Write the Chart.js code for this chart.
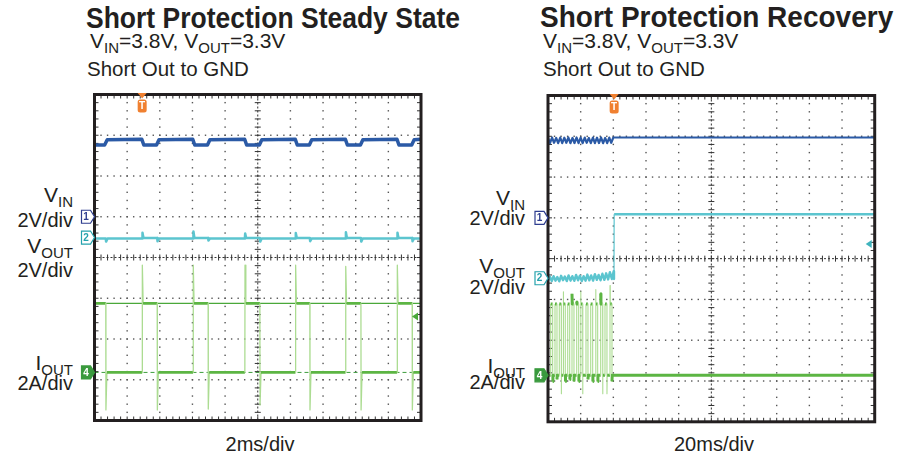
<!DOCTYPE html>
<html>
<head>
<meta charset="utf-8">
<script src="https://cdn.jsdelivr.net/npm/chart.js@4.4.0/dist/chart.umd.min.js"></script>
<style>
  html, body { margin: 0; padding: 0; background: #fff; }
  #page { position: relative; width: 903px; height: 462px; overflow: hidden; background: #fff; }
  canvas { position: absolute; }
  .lbl { position: absolute; white-space: nowrap; line-height: 1; color: #231f20;
         font-family: "Liberation Sans", Arial, Helvetica, sans-serif; }
  .title { font-size: 26.5px; font-weight: bold; transform: scaleY(1.08); transform-origin: 0 85%; }
  .sub1 { font-size: 21px; }
  .sub2 { font-size: 20.5px; }
  .ch { font-size: 21px; text-align: right; }
  .dv { font-size: 20px; text-align: right; }
  .ch span, .sub1 span { font-size: 15px; position: relative; top: 5px; }
  .tb { font-size: 20px; transform: translateX(-50%); }
</style>
</head>
<body>
<div id="page">
  <div class="lbl title" style="left:86px; top:5.6px">Short Protection Steady State</div>
  <div class="lbl sub1" style="left:90px; top:30.2px">V<span>IN</span>=3.8V, V<span>OUT</span>=3.3V</div>
  <div class="lbl sub2" style="left:87px; top:58.6px">Short Out to GND</div>

  <div class="lbl title" style="left:540px; top:4.3px; font-size:28px">Short Protection Recovery</div>
  <div class="lbl sub1" style="left:543px; top:30.2px">V<span>IN</span>=3.8V, V<span>OUT</span>=3.3V</div>
  <div class="lbl sub2" style="left:543px; top:58.6px">Short Out to GND</div>

  <div class="lbl ch" style="right:830px; top:184.2px">V<span>IN</span></div>
  <div class="lbl dv" style="right:830px; top:209.6px">2V/div</div>
  <div class="lbl ch" style="right:830px; top:235.2px">V<span>OUT</span></div>
  <div class="lbl dv" style="right:830px; top:259.6px">2V/div</div>
  <div class="lbl ch" style="right:830px; top:352.2px">I<span>OUT</span></div>
  <div class="lbl dv" style="right:830px; top:373.1px">2A/div</div>

  <div class="lbl ch" style="right:378px; top:187.2px">V<span>IN</span></div>
  <div class="lbl dv" style="right:378px; top:208.1px">2V/div</div>
  <div class="lbl ch" style="right:378px; top:255.2px">V<span>OUT</span></div>
  <div class="lbl dv" style="right:378px; top:277.1px">2V/div</div>
  <div class="lbl ch" style="right:378px; top:355.2px">I<span>OUT</span></div>
  <div class="lbl dv" style="right:378px; top:371.6px">2A/div</div>

  <div class="lbl tb" style="left:260px; top:434.1px">2ms/div</div>
  <div class="lbl tb" style="left:714px; top:434.1px">20ms/div</div>

  <canvas id="steady" width="380" height="352" style="left:60px; top:80px"></canvas>
  <canvas id="recovery" width="385" height="352" style="left:515px; top:80px"></canvas>
</div>

<script>
// ---- Steady state (time in ms, 2 ms/div) ----
const ssVinT = [0, 0.62, 0.78, 2.9, 3.02, 3.8, 3.95, 6.02, 6.14, 6.92, 7.07, 9.2, 9.32, 10.1, 10.25, 12.3, 12.42, 13.16, 13.31, 15.37, 15.49, 16.29, 16.44, 18.53, 18.65, 19.43, 19.58, 20];
const ssVinV = [3.52, 3.52, 3.78, 3.8, 3.52, 3.52, 3.78, 3.8, 3.52, 3.52, 3.78, 3.8, 3.52, 3.52, 3.78, 3.8, 3.52, 3.52, 3.78, 3.8, 3.52, 3.52, 3.78, 3.8, 3.52, 3.52, 3.78, 3.8];

const ssVoutT = [0, 0.69, 0.71, 0.8, 2.92, 2.94, 3.0, 3.84, 3.86, 3.95, 6.04, 6.06, 6.12, 6.96, 6.98, 7.07, 9.21, 9.23, 9.29, 10.13, 10.15, 10.24, 12.31, 12.33, 12.39, 13.19, 13.21, 13.3, 15.38, 15.4, 15.46, 16.32, 16.34, 16.43, 18.54, 18.56, 18.62, 19.46, 19.48, 19.57, 20];
const ssVoutV = [-0.05, -0.05, -0.2, -0.05, -0.05, 0.24, -0.02, -0.02, -0.18, -0.05, -0.05, 0.3, -0.02, -0.02, -0.15, -0.05, -0.05, 0.2, -0.02, -0.02, -0.2, -0.05, -0.05, 0.22, -0.02, -0.02, -0.18, -0.05, -0.05, 0.26, -0.02, -0.02, -0.2, -0.05, -0.05, 0.24, -0.02, -0.02, -0.18, -0.05, -0.05];

const ssIoutT = [0, 0.69, 0.7, 0.76, 2.92, 2.93, 2.98, 3.84, 3.85, 3.91, 6.04, 6.05, 6.1, 6.96, 6.97, 7.03, 9.21, 9.22, 9.27, 10.13, 10.14, 10.2, 12.31, 12.32, 12.37, 13.19, 13.2, 13.26, 15.38, 15.39, 15.44, 16.32, 16.33, 16.39, 18.54, 18.55, 18.6, 19.46, 19.47, 19.53, 20];
const ssIoutA = [3.39, 3.39, -1.84, 0, 0, 5.27, 3.39, 3.39, -1.84, 0, 0, 5.27, 3.39, 3.39, -1.8, 0, 0, 5.27, 3.39, 3.39, -1.6, 0, 0, 5.27, 3.39, 3.39, -1.84, 0, 0, 5.2, 3.39, 3.39, -1.84, 0, 0, 5.27, 3.39, 3.39, -1.84, 0, 0];

const ssCursorA = 3.39;      // horizontal cursor on the current channel
const ssTrigLevelA = 2.74;   // trigger level arrow
const ssTrigTime = 2.92;

// ---- Recovery (time in ms, 20 ms/div) ----
const rcVinT = [0, 1.2, 2.5, 3.7, 5.0, 6.2, 7.5, 8.7, 10.0, 11.2, 12.5, 13.7, 15.0, 16.2, 17.5, 18.7, 20.0, 21.2, 22.5, 23.7, 25.0, 26.2, 27.5, 28.7, 30.0, 31.2, 32.5, 33.7, 35.0, 36.2, 37.5, 38.7, 40.0, 200];
const rcVinV = [3.92, 3.66, 3.94, 3.68, 3.92, 3.66, 3.94, 3.66, 3.93, 3.68, 3.94, 3.66, 3.92, 3.67, 3.94, 3.66, 3.93, 3.66, 3.94, 3.68, 3.92, 3.66, 3.94, 3.66, 3.93, 3.67, 3.94, 3.66, 3.92, 3.66, 3.94, 3.68, 3.94, 3.94];

const rcVoutT = [0, 1.1, 2.3, 3.4, 4.6, 5.7, 6.9, 8.0, 9.2, 10.3, 11.5, 12.6, 13.8, 14.9, 16.1, 17.2, 18.4, 19.5, 20.7, 21.8, 23.0, 24.1, 25.3, 26.4, 27.6, 28.7, 29.9, 31.0, 32.2, 33.3, 34.5, 35.6, 36.8, 37.9, 39.1, 40.2, 40.4, 40.5, 200];
const rcVoutV = [-0.12, 0.08, -0.14, 0.1, -0.12, 0.06, -0.15, 0.12, -0.1, 0.08, -0.14, 0.14, -0.12, 0.1, -0.13, 0.16, -0.1, 0.12, -0.14, 0.1, -0.12, 0.18, -0.1, 0.14, -0.12, 0.2, -0.08, 0.16, -0.1, 0.22, -0.08, 0.24, -0.06, 0.3, -0.04, 0.34, -0.04, 3.14, 3.14];

const rcIoutT = [0,
  1.64, 1.65, 1.8, 2.85, 2.86, 3.0,
  4.28, 4.29, 4.44, 5.49, 5.5, 5.64,
  6.91, 6.92, 7.07, 8.12, 8.13, 8.27,
  9.36, 9.37, 9.52, 10.57, 10.58, 10.72,
  12.05, 12.06, 12.21, 13.26, 13.27, 13.41,
  14.68, 14.69, 14.84, 15.89, 15.9, 16.04,
  17.56, 17.57, 17.72, 18.77, 18.78, 18.92,
  20.01, 20.02, 20.17, 21.22, 21.23, 21.37,
  23.25, 23.26, 23.41, 24.46, 24.47, 24.61,
  26.13, 26.14, 26.29, 27.34, 27.35, 27.49,
  29.19, 29.2, 29.35, 30.4, 30.41, 30.55,
  32.25, 32.26, 32.41, 33.46, 33.47, 33.61,
  34.88, 34.89, 35.04, 36.09, 36.1, 36.24,
  37.95, 37.96, 38.11, 39.16, 39.17, 39.31,
  200];
const rcIoutA = [0,
  0, 3.5, 3.5, 3.5, -0.3, 0,
  0, 3.5, 3.5, 3.5, -0.2, 0,
  0, 3.5, 3.5, 3.5, -0.9, 0,
  0, 4.1, 3.5, 3.5, -0.3, 0,
  0, 3.5, 3.5, 3.5, -0.2, 0,
  0, 4.0, 3.5, 3.5, -0.3, 0,
  0, 3.6, 3.5, 3.5, -0.3, 0,
  0, 4.1, 3.5, 3.5, -0.9, 0,
  0, 3.5, 3.5, 3.5, -0.2, 0,
  0, 3.5, 3.5, 3.5, -0.3, 0,
  0, 4.2, 3.5, 3.5, -0.3, 0,
  0, 4.0, 3.5, 3.5, -0.9, 0,
  0, 3.5, 3.5, 3.5, -0.9, 0,
  0, 4.4, 3.5, 3.5, -0.3, 0,
  0];

const rcTrigLevelV = 1.68;
const rcTrigTime = 40.5;

// colours
const C_VIN = '#2b5aa6';
const C_VOUT = '#5cc5cf';
const C_IOUT = '#5cb543';
const C_IOUT_EDGE = '#acdc92';
const C_TRIG = '#f08030';

const pts = (t, v) => t.map((x, i) => ({ x, y: v[i] }));

// steep edges drawn thin and light, flat parts thick (scope persistence look)
function edgeSegments(limit, thick, thin, dark, light) {
  const steep = c => Math.abs(c.p1.parsed.y - c.p0.parsed.y) > limit;
  return {
    borderWidth: c => steep(c) ? thin : thick,
    borderColor: c => steep(c) ? light : dark
  };
}

// channel axis: ground at `ground` divisions from the bottom, 8 divisions tall
function chAxis(ground, perDiv) {
  return { type: 'linear', display: false, min: -ground * perDiv, max: (8 - ground) * perDiv };
}

function drawTag(ctx, xTip, y, label, stroke, fill, text) {
  const x0 = xTip - 13;
  ctx.beginPath();
  ctx.moveTo(x0, y - 6.5);
  ctx.lineTo(x0 + 9, y - 6.5);
  ctx.lineTo(xTip, y);
  ctx.lineTo(x0 + 9, y + 6.5);
  ctx.lineTo(x0, y + 6.5);
  ctx.closePath();
  ctx.fillStyle = fill;
  ctx.fill();
  ctx.lineWidth = 1.2;
  ctx.strokeStyle = stroke;
  ctx.stroke();
  ctx.fillStyle = text;
  ctx.font = 'bold 10px "Liberation Sans", Arial';
  ctx.textAlign = 'center';
  ctx.textBaseline = 'middle';
  ctx.fillText(label, x0 + 4.5, y + 0.5);
}

const scopePlugin = {
  id: 'scope',
  beforeDatasetsDraw(chart) {
    const { ctx, chartArea: a } = chart;
    const dx = (a.right - a.left) / 10, dy = (a.bottom - a.top) / 8;
    ctx.save();
    // dotted graticule
    ctx.fillStyle = '#555';
    for (let i = 1; i < 10; i++) {
      if (i === 5) continue;
      const x = a.left + i * dx;
      for (let k = 1; k < 40; k++) ctx.fillRect(x - 0.7, a.top + k * dy / 5 - 0.7, 1.4, 1.4);
    }
    for (let j = 1; j < 8; j++) {
      if (j === 4) continue;
      const y = a.top + j * dy;
      for (let k = 1; k < 50; k++) ctx.fillRect(a.left + k * dx / 5 - 0.7, y - 0.7, 1.4, 1.4);
    }
    // centre cross + minor ticks on cross and frame
    const cx = a.left + 5 * dx, cy = a.top + 4 * dy;
    ctx.strokeStyle = '#333';
    ctx.lineWidth = 1;
    ctx.setLineDash([2, 2]);
    ctx.beginPath();
    ctx.moveTo(cx, a.top); ctx.lineTo(cx, a.bottom);
    ctx.moveTo(a.left, cy); ctx.lineTo(a.right, cy);
    ctx.stroke();
    ctx.setLineDash([]);
    ctx.beginPath();
    for (let k = 1; k < 50; k++) {
      const x = a.left + k * dx / 5;
      ctx.moveTo(x, cy - 3); ctx.lineTo(x, cy + 3);
      ctx.moveTo(x, a.top); ctx.lineTo(x, a.top + 4);
      ctx.moveTo(x, a.bottom); ctx.lineTo(x, a.bottom - 4);
    }
    for (let k = 1; k < 40; k++) {
      const y = a.top + k * dy / 5;
      ctx.moveTo(cx - 3, y); ctx.lineTo(cx + 3, y);
      ctx.moveTo(a.left, y); ctx.lineTo(a.left + 4, y);
      ctx.moveTo(a.right, y); ctx.lineTo(a.right - 4, y);
    }
    ctx.stroke();
    ctx.restore();
  },
  afterDatasetsDraw(chart, args, opts) {
    const { ctx, chartArea: a, scales } = chart;
    ctx.save();
    // frame
    ctx.lineWidth = 3;
    ctx.strokeStyle = '#231f20';
    ctx.strokeRect(a.left, a.top, a.right - a.left, a.bottom - a.top);

    // channel ground tags
    drawTag(ctx, a.left, scales.yVin.getPixelForValue(0), '1', '#2e3d8f', '#fff', '#2e3d8f');
    drawTag(ctx, a.left, scales.yVout.getPixelForValue(0), '2', '#25a2ad', '#fff', '#25a2ad');
    drawTag(ctx, a.left, scales.yIout.getPixelForValue(0), '4', '#3a9a3e', '#3a9a3e', '#fff');

    // trigger position
    const tx = scales.x.getPixelForValue(opts.trigTime);
    ctx.fillStyle = C_TRIG;
    ctx.beginPath();
    ctx.moveTo(tx - 4.5, a.top - 1.5);
    ctx.lineTo(tx + 4.5, a.top - 1.5);
    ctx.lineTo(tx, a.top + 4);
    ctx.closePath();
    ctx.fill();
    ctx.beginPath();
    ctx.roundRect(tx - 4.5, a.top + 5, 9, 13, 2.5);
    ctx.fill();
    ctx.fillStyle = '#fff';
    ctx.font = 'bold 10px "Liberation Sans", Arial';
    ctx.textAlign = 'center';
    ctx.textBaseline = 'middle';
    ctx.fillText('T', tx, a.top + 12);

    // trigger level arrow on right edge
    const ay = scales[opts.levelAxis].getPixelForValue(opts.level);
    ctx.fillStyle = opts.levelColor;
    ctx.beginPath();
    ctx.moveTo(a.right - 9, ay);
    ctx.lineTo(a.right - 3, ay - 4);
    ctx.lineTo(a.right - 3, ay + 4);
    ctx.closePath();
    ctx.fill();
    ctx.restore();
  }
};

const base = { pointRadius: 0, tension: 0, fill: false, borderJoinStyle: 'round' };

function makeScope(id, xMax, padding, grounds, datasets, scopeOpts) {
  return new Chart(document.getElementById(id), {
    type: 'line',
    data: { datasets },
    options: {
      responsive: false,
      animation: false,
      events: [],
      layout: { padding },
      scales: {
        x: { type: 'linear', display: false, min: 0, max: xMax },
        yVin: chAxis(grounds[0], 2),
        yVout: chAxis(grounds[1], 2),
        yIout: chAxis(grounds[2], 2)
      },
      plugins: { legend: { display: false }, tooltip: { enabled: false }, scope: scopeOpts }
    },
    plugins: [scopePlugin]
  });
}

makeScope('steady', 20, { left: 34.5, right: 19, top: 14.5, bottom: 11.5 }, [5.0, 4.49, 1.18], [
  { ...base, data: pts(ssVinT, ssVinV), yAxisID: 'yVin', borderColor: C_VIN, borderWidth: 3.5 },
  { ...base, data: pts(ssVoutT, ssVoutV), yAxisID: 'yVout', borderColor: C_VOUT, borderWidth: 2.5 },
  { ...base, data: pts(ssIoutT, ssIoutA), yAxisID: 'yIout', borderColor: C_IOUT,
    segment: edgeSegments(0.5, 2.6, 1.3, C_IOUT, C_IOUT_EDGE) },
  { ...base, data: pts([0, 20], [ssCursorA, ssCursorA]), yAxisID: 'yIout', borderColor: '#4aa83a', borderWidth: 1.2 },
  { ...base, data: pts([0, 20], [0, 0]), yAxisID: 'yIout', borderColor: '#3c9d3c', borderWidth: 1, borderDash: [4, 3] }
], { trigTime: ssTrigTime, levelAxis: 'yIout', level: ssTrigLevelA, levelColor: '#4aa83a' });

makeScope('recovery', 200, { left: 33, right: 25.3, top: 15.5, bottom: 10.2 }, [5.0, 3.52, 1.14], [
  { ...base, data: pts(rcVinT, rcVinV), yAxisID: 'yVin', borderColor: C_VIN, borderWidth: 2.2 },
  { ...base, data: pts(rcVoutT, rcVoutV), yAxisID: 'yVout', borderColor: C_VOUT,
    segment: edgeSegments(1, 2.4, 1.2, C_VOUT, C_VOUT) },
  { ...base, data: pts(rcIoutT, rcIoutA), yAxisID: 'yIout', borderColor: C_IOUT,
    segment: edgeSegments(0.5, 3, 1.1, C_IOUT, C_IOUT_EDGE) }
], { trigTime: rcTrigTime, levelAxis: 'yVout', level: rcTrigLevelV, levelColor: '#3fb3bd' });
</script>
</body>
</html>
